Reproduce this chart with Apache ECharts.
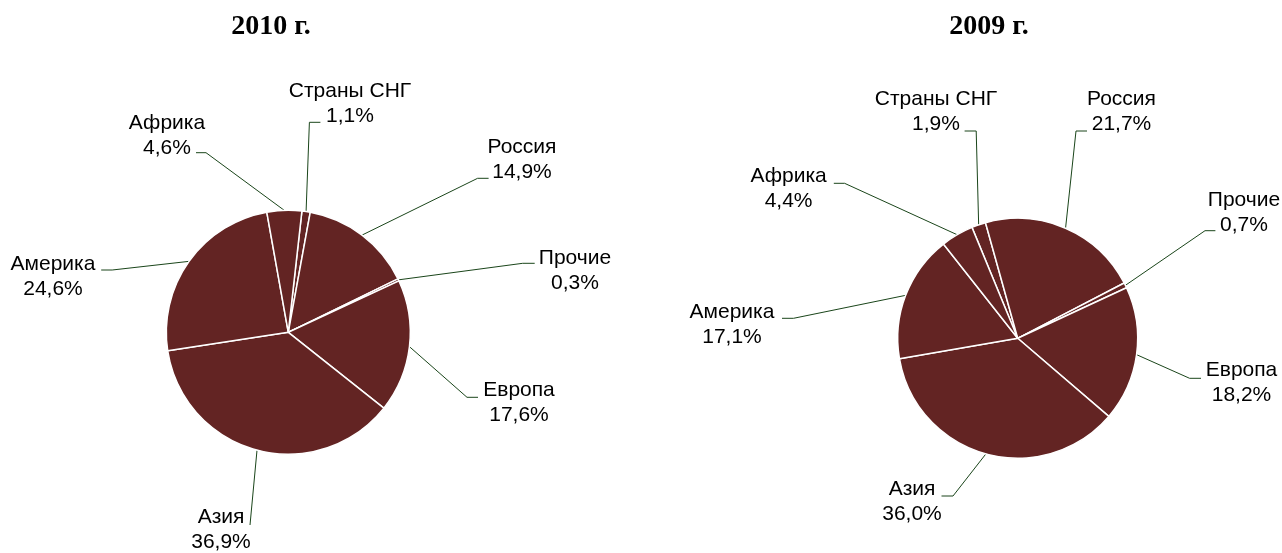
<!DOCTYPE html>
<html>
<head>
<meta charset="utf-8">
<script src="https://cdn.jsdelivr.net/npm/echarts@6/dist/echarts.min.js"></script>
<style>
  html, body { margin: 0; padding: 0; background: #ffffff; }
  #chart { width: 1282px; height: 553px; }
</style>
</head>
<body>
<div id="chart"></div>
<script>
// ---- data ----
const categories = ['Страны СНГ', 'Россия', 'Прочие', 'Европа', 'Азия', 'Америка', 'Африка'];
const values2010 = [1.1, 14.9, 0.3, 17.6, 36.9, 24.6, 4.6];
const values2009 = [1.9, 21.7, 0.7, 18.2, 36.0, 17.1, 4.4];
const titles = ['2010 г.', '2009 г.'];

// ---- layout (label centres, leader-line end points, horizontal elbow length) ----
const labelLayouts = [
  [ // 2010
    { c: [350, 104],   e: [320.4, 122.3], k: -11 },
    { c: [522, 159.5], e: [488.6, 178.3], k: -11 },
    { c: [575, 270.5], e: [534.7, 263.3], k: -12 },
    { c: [519, 403],   e: [478, 397.3],   k: -11 },
    { c: [221, 530],   e: [250, 525],     k: 0 },
    { c: [53, 277],    e: [101.2, 270],   k: 11 },
    { c: [167, 135.5], e: [196, 152.7],   k: 10 }
  ],
  [ // 2009
    { c: [936, 112],    e: [964.6, 131],   k: 11.6 },
    { c: [1121.5, 112], e: [1087, 131],    k: -11 },
    { c: [1244, 212.5], e: [1215.4, 230.7], k: -10.4 },
    { c: [1241.5, 383], e: [1201, 378.3],  k: -11.4 },
    { c: [912, 501.5],  e: [941.5, 496],   k: 11.5 },
    { c: [732, 325],    e: [782, 318.3],   k: 11.5 },
    { c: [788.6, 189],  e: [833.8, 183.3], k: 10.8 }
  ]
];

const SLICE = '#632423';
const LEADER = '#1a451a';

function fmt(v) { return v.toFixed(1).replace('.', ',') + '%'; }

function makeSeries(values, center, radius, startAngle) {
  return {
    type: 'pie',
    center: center,
    radius: radius,
    startAngle: startAngle,
    clockwise: true,
    avoidLabelOverlap: false,
    minShowLabelAngle: 0,
    animation: false,
    itemStyle: { color: SLICE, borderColor: '#ffffff', borderWidth: 1.5 },
    emphasis: { disabled: true },
    label: {
      show: true,
      position: 'outside',
      formatter: function (p) { return p.name + '\n' + fmt(p.value); },
      fontFamily: 'Liberation Sans, Arial, sans-serif',
      fontSize: 21,
      lineHeight: 25,
      color: '#000000'
    },
    labelLine: {
      show: true,
      length: 10,
      length2: 10,
      smooth: false,
      lineStyle: { color: LEADER, width: 1 }
    },
    labelLayout: function (params) {
      const L = labelLayouts[params.seriesIndex][params.dataIndex];
      const pts = params.labelLinePoints;
      const p0 = pts ? pts[0] : L.e;
      const knee = [L.e[0] + L.k, L.e[1]];
      return {
        x: L.c[0],
        y: L.c[1],
        align: 'center',
        verticalAlign: 'middle',
        labelLinePoints: [p0, knee, L.e]
      };
    },
    data: categories.map(function (name, i) { return { name: name, value: values[i] }; })
  };
}

const chart = echarts.init(document.getElementById('chart'), null, { renderer: 'canvas' });
chart.setOption({
  backgroundColor: '#ffffff',
  animation: false,
  graphic: [
    { type: 'text', x: 271, y: 27, style: { text: titles[0], align: 'center', verticalAlign: 'middle',
      font: 'bold 28px "Liberation Serif", "Times New Roman", serif', fill: '#000' } },
    { type: 'text', x: 989, y: 27, style: { text: titles[1], align: 'center', verticalAlign: 'middle',
      font: 'bold 28px "Liberation Serif", "Times New Roman", serif', fill: '#000' } }
  ],
  series: [
    makeSeries(values2010, [288.3, 332.3], 122, 83.6),
    makeSeries(values2009, [1017.7, 338.3], 120, 112.4)
  ]
});
</script>
</body>
</html>
